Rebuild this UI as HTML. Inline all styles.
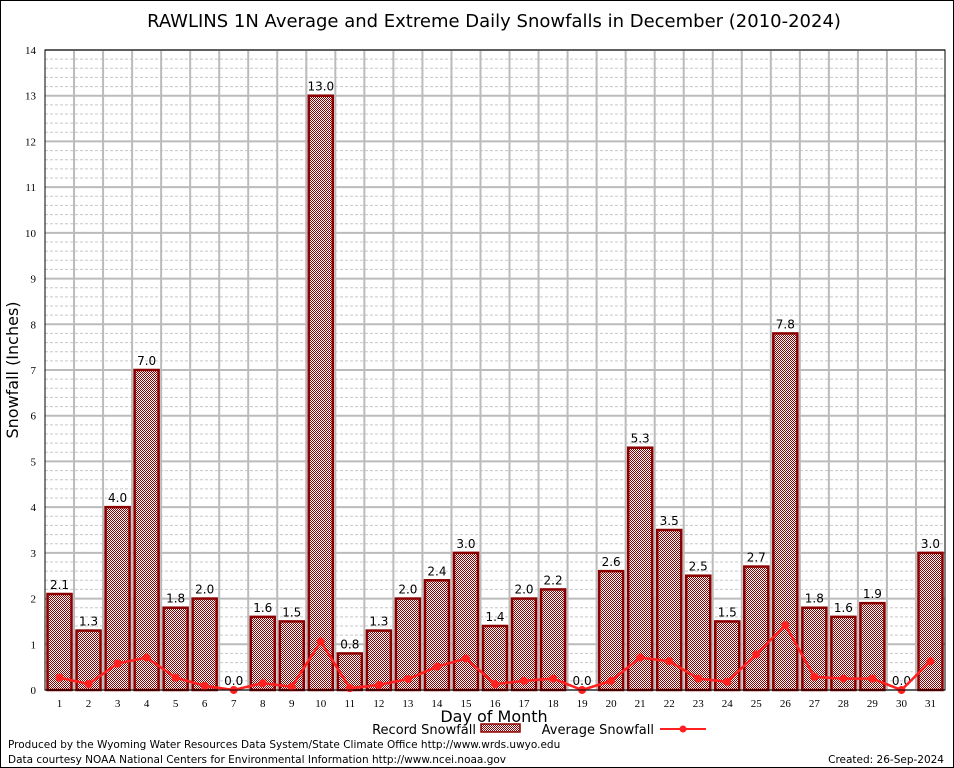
<!DOCTYPE html>
<html><head><meta charset="utf-8"><style>
html,body{margin:0;padding:0;background:#fff;}
svg{display:block;font-family:"DejaVu Sans","Liberation Sans",sans-serif;}
</style></head><body>
<svg id="chart" width="954" height="768" xmlns="http://www.w3.org/2000/svg">
<rect x="0.5" y="0.5" width="953" height="767" fill="#fff" stroke="#000"/>
<text x="494" y="27" font-size="18" text-anchor="middle" fill="#000">RAWLINS 1N Average and Extreme Daily Snowfalls in December (2010-2024)</text>
<g id="grid"></g>
<g id="bars"></g>
<g id="avg"></g>
<g id="axes"></g>
<text x="18" y="370" font-size="16" text-anchor="middle" transform="rotate(-90 18 370)">Snowfall (Inches)</text>
<text x="494" y="722" font-size="16" text-anchor="middle">Day of Month</text>
<g>
<text x="476" y="734" font-size="13" text-anchor="end">Record Snowfall</text>
<defs><pattern id="hatch" width="2" height="2" patternUnits="userSpaceOnUse"><rect width="2" height="2" fill="#fff"/><rect width="1" height="1" fill="#8b0000"/><rect x="1" y="1" width="1" height="1" fill="#8b0000"/></pattern></defs>
<rect x="481" y="724" width="39" height="8" fill="url(#hatch)" stroke="#8b0000" stroke-width="1.5"/>
<text x="654" y="734" font-size="13" text-anchor="end">Average Snowfall</text>
<line x1="660" y1="729" x2="706" y2="729" stroke="#ff2020" stroke-width="2"/>
<circle cx="683" cy="729" r="3.5" fill="#ff2020"/>
</g>
<text x="8" y="748" font-size="10.5">Produced by the Wyoming Water Resources Data System/State Climate Office http://www.wrds.uwyo.edu</text>
<text x="8" y="763" font-size="10.5">Data courtesy NOAA National Centers for Environmental Information http://www.ncei.noaa.gov</text>
<text x="944" y="763" font-size="10.5" text-anchor="end">Created:  26-Sep-2024</text>
</svg>
<script>
const days = [1,2,3,4,5,6,7,8,9,10,11,12,13,14,15,16,17,18,19,20,21,22,23,24,25,26,27,28,29,30,31];
const recordSnow = [2.1,1.3,4.0,7.0,1.8,2.0,0.0,1.6,1.5,13.0,0.8,1.3,2.0,2.4,3.0,1.4,2.0,2.2,0.0,2.6,5.3,3.5,2.5,1.5,2.7,7.8,1.8,1.6,1.9,0.0,3.0];
const avgSnow = [0.27,0.13,0.58,0.71,0.27,0.09,0.0,0.15,0.07,1.06,0.04,0.11,0.24,0.51,0.69,0.13,0.2,0.25,0.0,0.2,0.71,0.63,0.25,0.18,0.78,1.42,0.29,0.25,0.25,0.0,0.63];
const yTicks = [0,1,2,3,4,5,6,7,8,9,10,11,12,13,14];

const NS="http://www.w3.org/2000/svg";
const L=45,R=945,T=50,B=690,yMax=14;
const slot=(R-L)/days.length;
function xS(i){return L+slot*(i+0.5);}
function yS(v){return B-(v/yMax)*(B-T);}
function mk(tag,attrs,parent){const e=document.createElementNS(NS,tag);for(const k in attrs)e.setAttribute(k,attrs[k]);parent.appendChild(e);return e;}
const grid=document.getElementById('grid'),bars=document.getElementById('bars'),avg=document.getElementById('avg'),axes=document.getElementById('axes');

for(let v=0;v<yMax;v+=0.2){
  const y=yS(v);
  const ln=mk('line',{x1:L,x2:R,y1:y,y2:y,stroke:'#c8c8c8','stroke-width':1,'stroke-dasharray':'3,2'},grid);
  
  
}
yTicks.forEach(v=>{
  const y=yS(v);
  const ln=mk('line',{x1:L,x2:R,y1:y,y2:y,stroke:'#bbb','stroke-width':2},grid);
  
  
  const t=mk('text',{x:36,y:y+4,'font-size':11,'text-anchor':'end','font-family':'Liberation Serif, serif'},axes);
  t.textContent=v;
  
  
});
for(let i=1;i<days.length;i++){
  const x=L+slot*i;
  const ln=mk('line',{x1:x,x2:x,y1:T,y2:B,stroke:'#bbb','stroke-width':2},grid);
  
  
}
days.forEach((d,i)=>{
  const v=recordSnow[i],x=xS(i);
  if(v>0){
    const r=mk('rect',{x:x-12,y:yS(v),width:24,height:B-yS(v),fill:'url(#hatch)',stroke:'#8b0000','stroke-width':2.5},bars);
    
    
  }
  const t=mk('text',{x:x,y:yS(v)-5,'font-size':12,'text-anchor':'middle'},bars);
  t.textContent=v.toFixed(1);
  
  
  const xl=mk('text',{x:x,y:B+17,'font-size':11,'text-anchor':'middle','font-family':'Liberation Serif, serif'},axes);
  xl.textContent=d;
  
  
});
const pts=avgSnow.map((v,i)=>xS(i)+','+yS(v)).join(' ');
const pl=mk('polyline',{points:pts,fill:'none',stroke:'#ff2020','stroke-width':2.5},avg);


avgSnow.forEach((v,i)=>{
  const c=mk('circle',{cx:xS(i),cy:yS(v),r:4,fill:'#ff2020'},avg);
  
  
});
const fr=mk('rect',{x:L,y:T,width:R-L,height:B-T,fill:'none',stroke:'#000','stroke-width':1},axes);


</script>
</body></html>
